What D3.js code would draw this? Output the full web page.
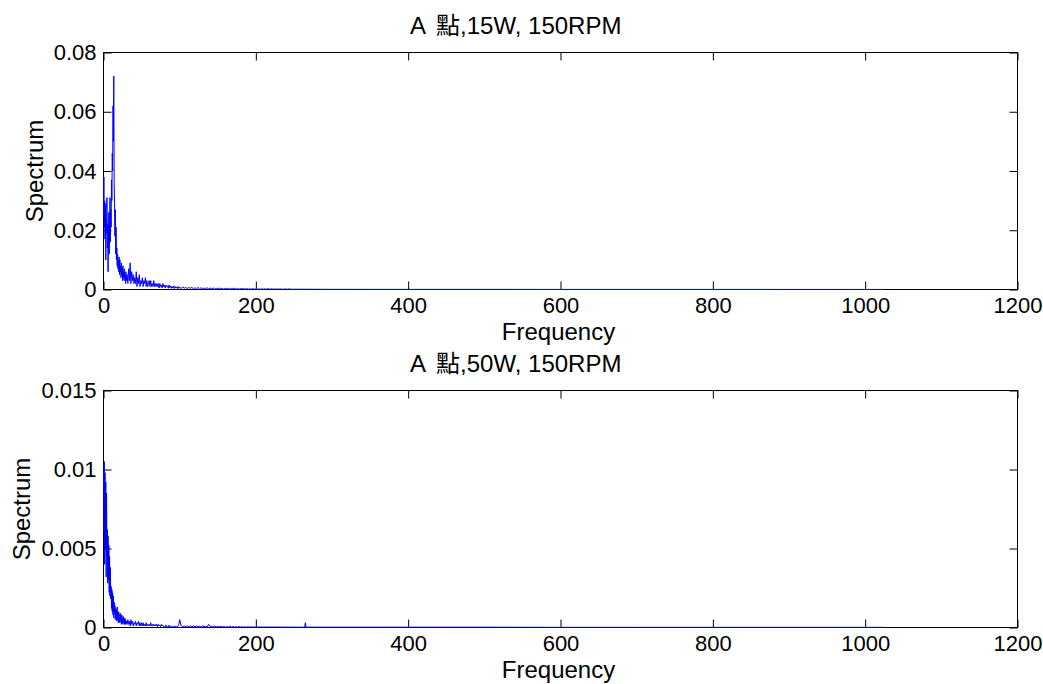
<!DOCTYPE html>
<html>
<head>
<meta charset="utf-8">
<script src="https://cdn.jsdelivr.net/npm/d3@7"></script>
<style>
  body { margin: 0; background: #fff; }
  text { font-family: "Liberation Sans", Arial, "Noto Sans CJK TC", sans-serif; fill: #000; }
  .tick line { stroke: #000; }
  .tick text { font-size: 22px; }
</style>
</head>
<body>
<svg id="chart" width="1043" height="684"></svg>
<script>
// Chart titles and labels
var titles = ["A \u9ede,15W, 150RPM", "A \u9ede,50W, 150RPM"];
var xLabel = "Frequency";
var yLabel = "Spectrum";

// Tick values
var xTicks = [0, 200, 400, 600, 800, 1000, 1200];
var yTicksTop = [0, 0.02, 0.04, 0.06, 0.08];
var yTicksBottom = [0, 0.005, 0.01, 0.015];

// Frequency grid: 0..30 every 0.5, 31..100 every 1, 102..250 every 2, then a sparse tail
var freqFine = d3.range(0, 30.001, 0.5);
var freqMid = d3.range(31, 101, 1);
var freqCoarse = d3.range(102, 251, 2);
var freqTailTop = [300, 400, 500, 600, 700, 800, 900, 1000, 1024];
var freqTailBottom = [264, 265, 266, 300, 400, 500, 600, 700, 800, 900, 1000, 1024];

// Spectrum, 15W (top)
var specTopFine = [
  0.025, 0.038, 0.021, 0.030, 0.017, 0.029, 0.010, 0.024, 0.019, 0.031,
  0.014, 0.022, 0.006, 0.018, 0.026, 0.012, 0.020, 0.031, 0.016, 0.027,
  0.021, 0.037, 0.030, 0.046, 0.040, 0.062, 0.050, 0.072, 0.036, 0.029,
  0.018, 0.027, 0.012, 0.021, 0.010, 0.014, 0.008, 0.012, 0.007, 0.010,
  0.006, 0.011, 0.005, 0.010, 0.006, 0.008, 0.004, 0.009, 0.005, 0.007,
  0.003, 0.008, 0.004, 0.006, 0.003, 0.007, 0.004, 0.005, 0.002, 0.006,
  0.003
];
var specTopMid = [
  0.005, 0.002, 0.007, 0.003, 0.009, 0.002, 0.006, 0.003, 0.005, 0.002,
  0.004, 0.002, 0.006, 0.001, 0.004, 0.002, 0.005, 0.001, 0.003, 0.002,
  0.004, 0.001, 0.003, 0.002, 0.004, 0.001, 0.003, 0.001, 0.002, 0.003,
  0.001, 0.003, 0.001, 0.002, 0.001, 0.003, 0.001, 0.002, 0.001, 0.002,
  0.001, 0.002, 0.0005, 0.002, 0.001, 0.0015, 0.0005, 0.002, 0.001, 0.0015,
  0.0005, 0.0015, 0.001, 0.0012, 0.0004, 0.0015, 0.0006, 0.0012, 0.0004, 0.001,
  0.0005, 0.0012, 0.0003, 0.001, 0.0005, 0.0009, 0.0003, 0.001, 0.0004, 0.0008
];
var specTopCoarse = [
  0.0003, 0.0009, 0.0004, 0.0008, 0.0002, 0.0007, 0.0004, 0.0008, 0.0002, 0.0006,
  0.0003, 0.0007, 0.0002, 0.0006, 0.0003, 0.0005, 0.0002, 0.0006, 0.0002, 0.0005,
  0.0003, 0.0005, 0.0001, 0.0004, 0.0002,
  0.0005, 0.0002, 0.0004, 0.0001, 0.0004, 0.0002, 0.0004, 0.0001, 0.0003, 0.0002,
  0.0004, 0.0001, 0.0003, 0.0001, 0.0003, 0.0002, 0.0003, 0.0001, 0.0003, 0.0001,
  0.0002, 0.0001, 0.0003, 0.0001, 0.0002,
  0.0001, 0.0002, 0.0001, 0.0002, 0.0001, 0.0002, 0.0001, 0.0003, 0.0001, 0.0002,
  0.0001, 0.0002, 0.0001, 0.0002, 0.0001, 0.0002, 0.0001, 0.0001, 0.0002, 0.0001,
  0.0001, 0.0002, 0.0001, 0.0001, 0.0001
];
var specTopTail = [0.00005, 0.00004, 0.00004, 0.00003, 0.00003, 0.00003, 0.00002, 0.00002, 0.00002];

// Spectrum, 50W (bottom)
var specBottomFine = [
  0.0100, 0.0060, 0.0105, 0.0040, 0.0098, 0.0050, 0.0092, 0.0032, 0.0085, 0.0045,
  0.0062, 0.0028, 0.0058, 0.0030, 0.0052, 0.0022, 0.0045, 0.0020, 0.0038, 0.0018,
  0.0026, 0.0012, 0.0024, 0.0010, 0.0022, 0.0008, 0.0020, 0.0006, 0.0016, 0.0009,
  0.0014, 0.0005, 0.0012, 0.0006, 0.0011, 0.0004, 0.0013, 0.0005, 0.0009, 0.0003,
  0.0010, 0.0004, 0.0008, 0.0003, 0.0009, 0.0004, 0.0007, 0.0002, 0.0008, 0.0003,
  0.0006, 0.0002, 0.0007, 0.0003, 0.0005, 0.0002, 0.0006, 0.0002, 0.0005, 0.0002,
  0.0004
];
var specBottomMid = [
  0.0002, 0.0005, 0.0002, 0.0004, 0.0001, 0.0005, 0.0002, 0.0004, 0.0001, 0.0003,
  0.0002, 0.0004, 0.0001, 0.0003, 0.0002, 0.0004, 0.0001, 0.0003, 0.0001, 0.0003,
  0.0001, 0.0003, 0.0001, 0.0002, 0.0001, 0.0003, 0.0001, 0.0002, 0.0001, 0.0002,
  0.0001, 0.0003, 0.0001, 0.0002, 0.0001, 0.0002, 0.0001, 0.0002, 0.0001, 0.0002,
  0.00005, 0.0002, 0.0001, 0.00015, 0.00005, 0.0002, 0.0001, 0.00015, 0.00005, 0.0001,
  0.00005, 0.00015, 0.00005, 0.0001, 0.00005, 0.00015, 0.00005, 0.0001, 0.00005, 0.0001,
  0.00005, 0.0001, 0.00005, 0.0001, 0.00005, 0.0001, 0.00005, 0.0001, 0.0002, 0.0005
];
var specBottomCoarse = [
  0.0001, 0.00005, 0.0001, 0.00005, 0.0001, 0.00005, 0.0001, 0.00005, 0.0001, 0.00005,
  0.0001, 0.00005, 0.00008, 0.00003, 0.0001, 0.00005, 0.00008, 0.00003, 0.0002, 0.00005,
  0.00008, 0.00003, 0.0001, 0.00003, 0.00008,
  0.00003, 0.00008, 0.00003, 0.00006, 0.00002, 0.00006, 0.00002, 0.0001, 0.00002, 0.00006,
  0.00002, 0.00005, 0.00002, 0.00006, 0.00002, 0.00005, 0.00002, 0.00004, 0.00002, 0.00005,
  0.00002, 0.00004, 0.00002, 0.00004, 0.00002,
  0.00003, 0.00002, 0.00004, 0.00002, 0.00003, 0.00002, 0.00004, 0.00002, 0.00003, 0.00002,
  0.00003, 0.00002, 0.00004, 0.00002, 0.00003, 0.00002, 0.00003, 0.00002, 0.00003, 0.00002,
  0.00003, 0.00002, 0.00003, 0.00002, 0.00002
];
var specBottomTail = [0.00002, 0.0003, 0.00002, 0.00002, 0.00002, 0.00002, 0.00001, 0.00001, 0.00001, 0.00001, 0.00001, 0.00001];

// Build point lists
function zipSeries(freqs, vals) {
  return freqs.map(function (f, i) { return { freq: f, value: vals[i] }; });
}
var topData = zipSeries(freqFine.concat(freqMid, freqCoarse, freqTailTop),
  specTopFine.concat(specTopMid, specTopCoarse, specTopTail));
var bottomData = zipSeries(freqFine.concat(freqMid, freqCoarse, freqTailBottom),
  specBottomFine.concat(specBottomMid, specBottomCoarse, specBottomTail));

var svg = d3.select("#chart");
svg.append("rect").attr("width", 1043).attr("height", 684).attr("fill", "#fff");

var left = 103.5, right = 1017.5;

function drawPanel(opts) {
  var xScale = d3.scaleLinear().domain([0, 1200]).range([left, right]);
  var yScale = d3.scaleLinear().domain([0, opts.yMax]).range([opts.bottom, opts.top]);
  var h = opts.bottom - opts.top, w = right - left;

  var g = svg.append("g");

  // bottom axis with labels
  g.append("g")
    .attr("transform", "translate(0," + opts.bottom + ")")
    .call(d3.axisBottom(xScale).tickValues(xTicks).tickSize(-8).tickPadding(8)
      .tickFormat(function (d) { return String(d); }))
    .call(function (a) { a.select(".domain").remove(); });

  // top axis, ticks only
  g.append("g")
    .attr("transform", "translate(0," + opts.top + ")")
    .call(d3.axisTop(xScale).tickValues(xTicks).tickSize(-8).tickFormat(""))
    .call(function (a) { a.select(".domain").remove(); });

  // left axis with labels
  g.append("g")
    .attr("transform", "translate(" + left + ",0)")
    .call(d3.axisLeft(yScale).tickValues(opts.yTicks).tickSize(-8).tickPadding(7)
      .tickFormat(function (d) { return d === 0 ? "0" : String(+d.toFixed(3)); }))
    .call(function (a) { a.select(".domain").remove(); });

  // right axis, ticks only
  g.append("g")
    .attr("transform", "translate(" + right + ",0)")
    .call(d3.axisRight(yScale).tickValues(opts.yTicks).tickSize(-8).tickFormat(""))
    .call(function (a) { a.select(".domain").remove(); });

  // box
  g.append("rect")
    .attr("x", left).attr("y", opts.top)
    .attr("width", w).attr("height", h)
    .attr("fill", "none").attr("stroke", "#000").attr("stroke-width", 1);

  // spectrum line
  var line = d3.line()
    .x(function (d) { return xScale(d.freq); })
    .y(function (d) { return yScale(d.value); });

  g.append("path")
    .datum(opts.data)
    .attr("d", line)
    .attr("fill", "none")
    .attr("stroke", "#0000ff")
    .attr("stroke-width", 1);

  // title: "A" then the rest, with a wider gap like the original
  var parts = opts.title.split(" ");
  var t = g.append("text")
    .attr("x", 410)
    .attr("y", opts.top - 19)
    .style("font-size", "24px");
  t.append("tspan").text(parts[0]);
  t.append("tspan").attr("dx", 10).text(parts.slice(1).join(" "));

  // x label
  g.append("text")
    .attr("x", (left + right) / 2 - 2)
    .attr("y", opts.bottom + 50)
    .style("text-anchor", "middle")
    .style("font-size", "24px")
    .text(xLabel);

  // y label
  g.append("text")
    .attr("transform", "translate(" + opts.yLabelX + "," + (opts.top + h / 2) + ") rotate(-90)")
    .style("text-anchor", "middle")
    .style("font-size", "24px")
    .text(yLabel);
}

drawPanel({ top: 52.5, bottom: 289.5, yMax: 0.08, yTicks: yTicksTop, data: topData, title: titles[0], yLabelX: 43 });
drawPanel({ top: 390.5, bottom: 627.5, yMax: 0.015, yTicks: yTicksBottom, data: bottomData, title: titles[1], yLabelX: 30 });
</script>
</body>
</html>
